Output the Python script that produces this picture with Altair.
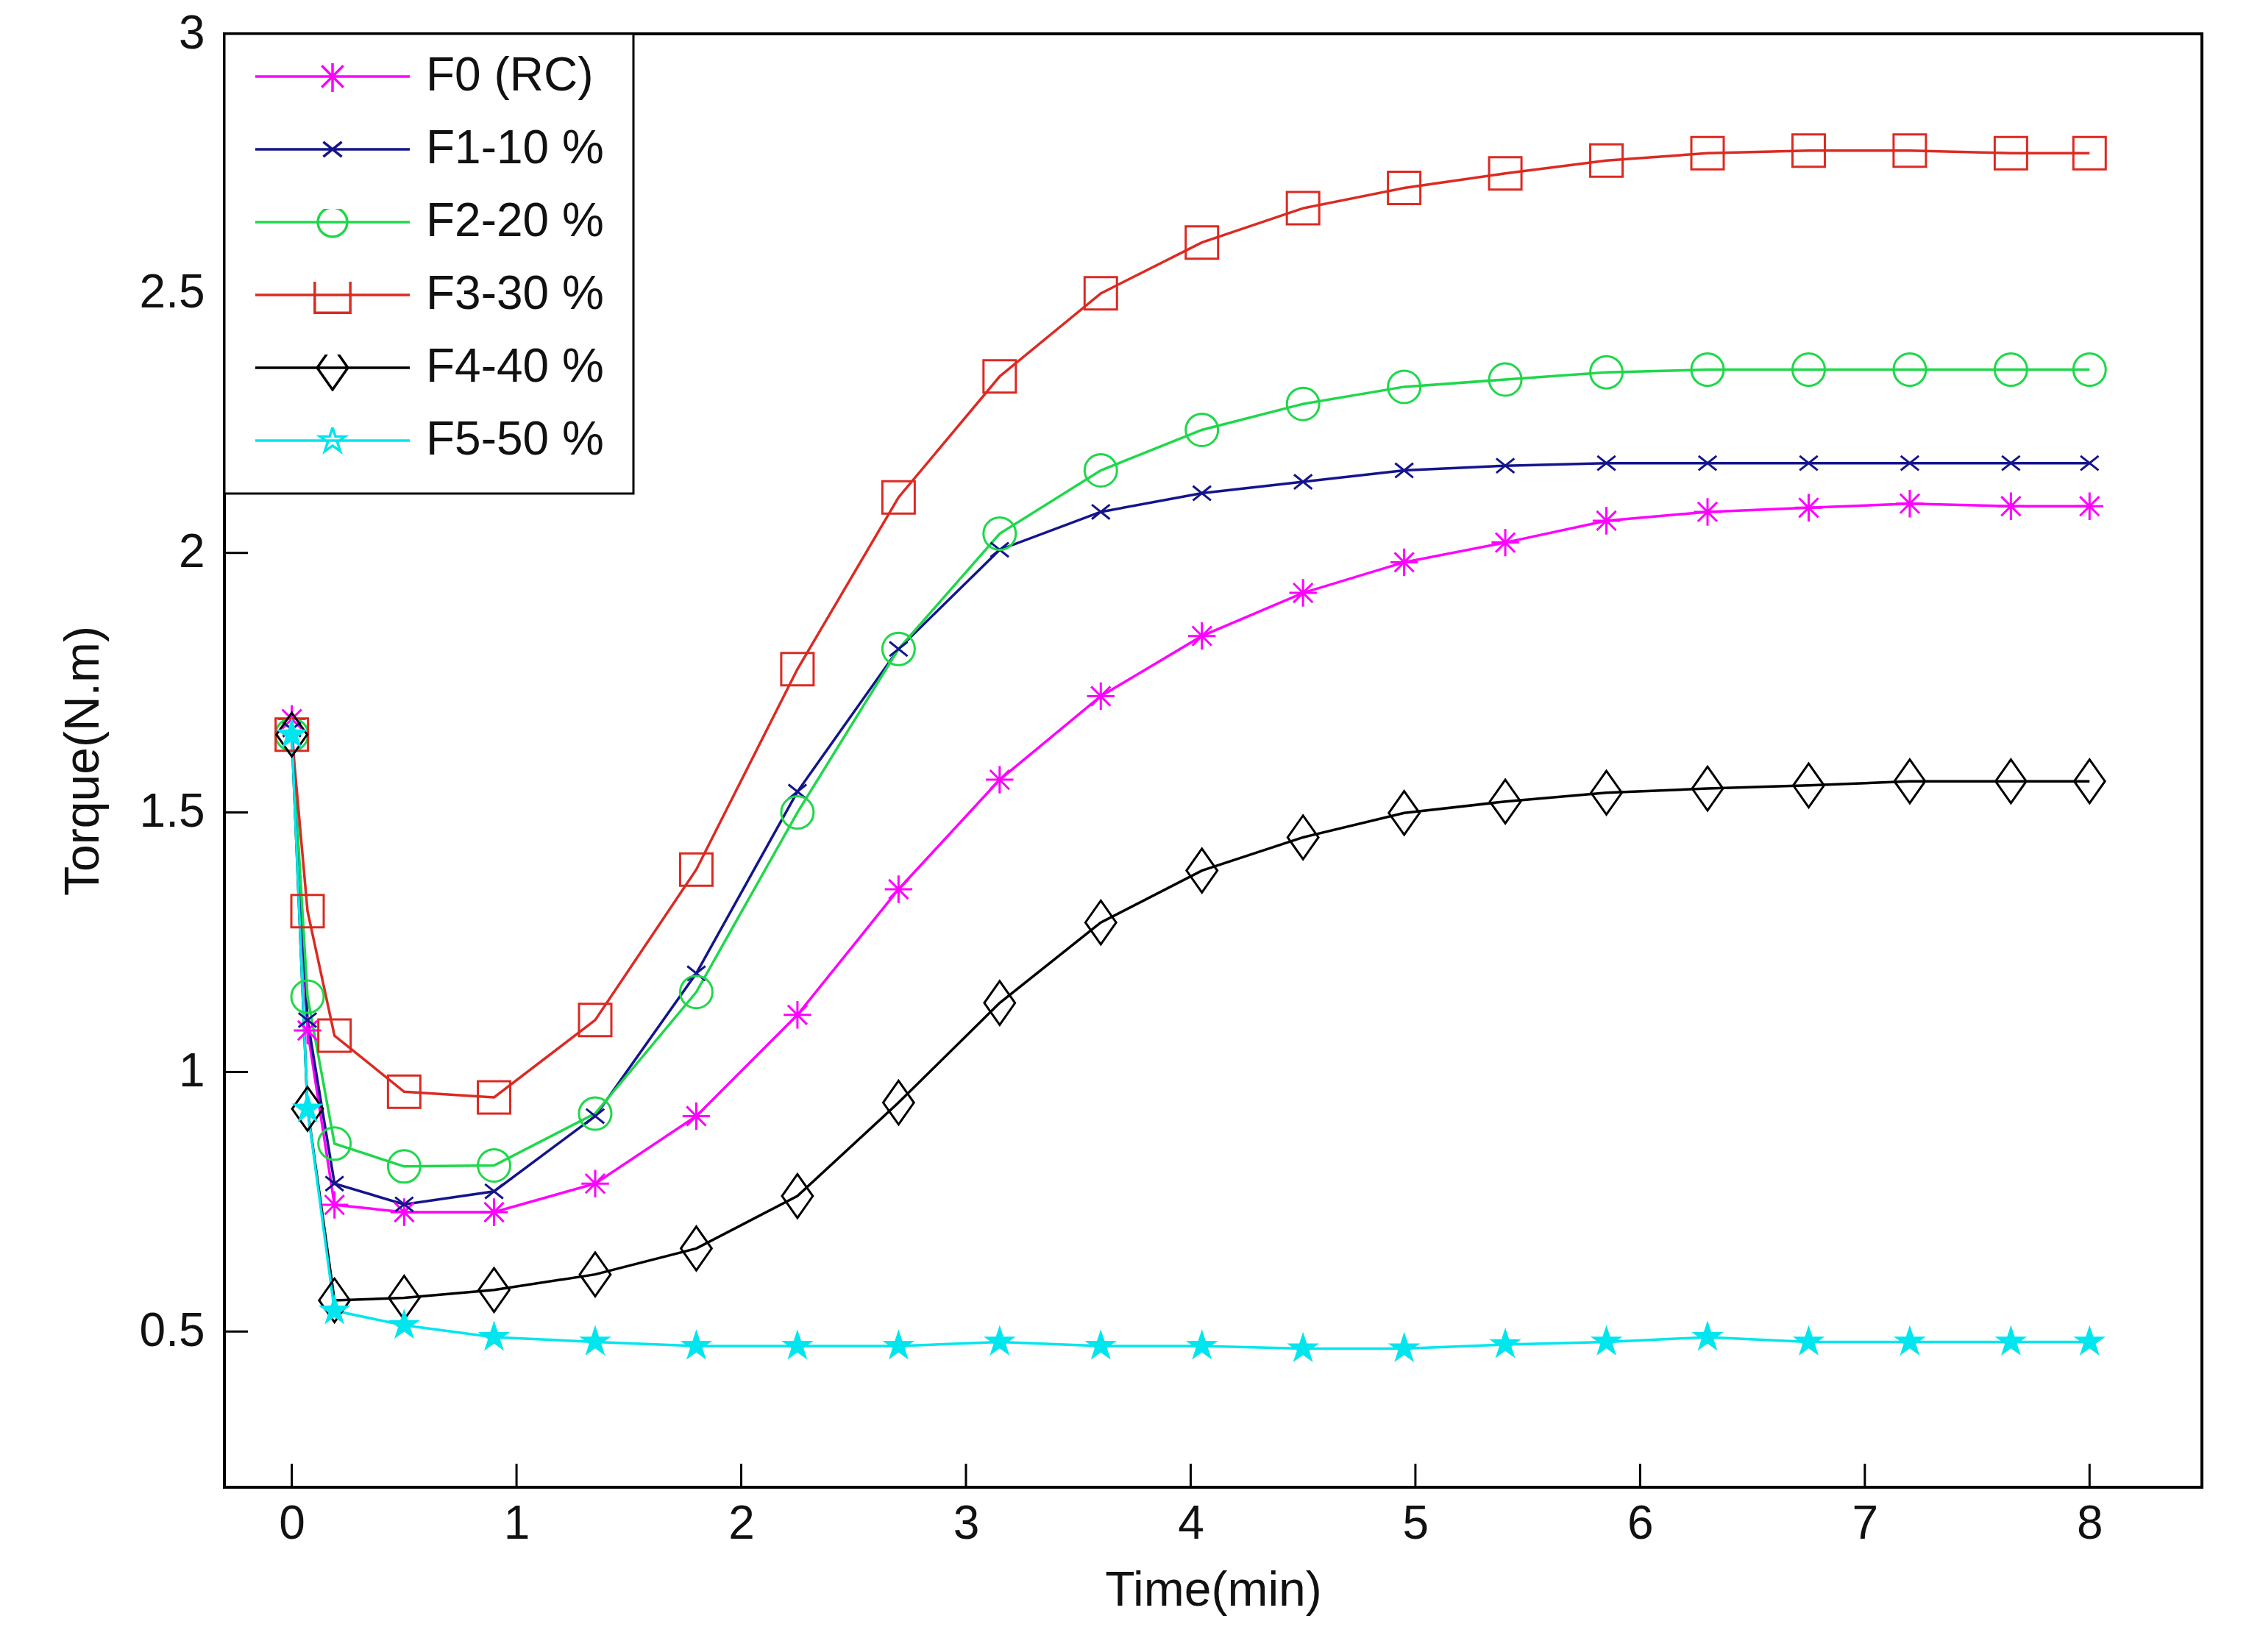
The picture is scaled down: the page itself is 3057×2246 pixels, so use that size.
import altair as alt
import pandas as pd

# time axis (min) where the markers sit
times = [0, 0.07, 0.19, 0.5, 0.9, 1.35, 1.8, 2.25, 2.7, 3.15, 3.6, 4.05,
         4.5, 4.95, 5.4, 5.85, 6.3, 6.75, 7.2, 7.65, 8.0]

names = ["F0 (RC)", "F1-10 %", "F2-20 %", "F3-30 %", "F4-40 %", "F5-50 %"]

f0 = [1.68, 1.08, 0.744, 0.73, 0.73, 0.785, 0.915, 1.11, 1.352, 1.563, 1.724,
      1.84, 1.923, 1.982, 2.02, 2.062, 2.079, 2.087, 2.095, 2.09, 2.09]
f1 = [1.66, 1.10, 0.785, 0.745, 0.77, 0.915, 1.19, 1.54, 1.815, 2.006, 2.079,
      2.115, 2.137, 2.159, 2.168, 2.173, 2.173, 2.173, 2.173, 2.173, 2.173]
f2 = [1.65, 1.145, 0.862, 0.818, 0.82, 0.92, 1.154, 1.50, 1.815, 2.037, 2.159,
      2.237, 2.287, 2.32, 2.334, 2.348, 2.353, 2.353, 2.353, 2.353, 2.353]
f3 = [1.65, 1.31, 1.07, 0.962, 0.951, 1.10, 1.39, 1.776, 2.107, 2.34, 2.50,
      2.598, 2.664, 2.703, 2.731, 2.756, 2.77, 2.775, 2.775, 2.77, 2.77]
f4 = [1.65, 0.929, 0.56, 0.565, 0.58, 0.61, 0.66, 0.761, 0.941, 1.133, 1.288,
      1.388, 1.452, 1.499, 1.521, 1.538, 1.546, 1.552, 1.56, 1.56, 1.56]
f5 = [1.65, 0.929, 0.54, 0.512, 0.489, 0.48, 0.472, 0.472, 0.472, 0.48, 0.472,
      0.472, 0.467, 0.467, 0.475, 0.48, 0.489, 0.48, 0.48, 0.48, 0.48]

x_ticks = [0, 1, 2, 3, 4, 5, 6, 7, 8]
y_ticks = [0.5, 1, 1.5, 2, 2.5, 3]

colors = ["#FF00FF", "#14148C", "#1ED84A", "#DC2A22", "#000000", "#00E6EE"]

W, H = 2688, 1976
FONT = "Liberation Sans"


# marker geometry in unit coords, matlab style: * x o square diamond pentagram
def segs(lines, k, closed=False):
    out = ""
    for pts in lines:
        out += "M" + "L".join(f"{x * k:.3f},{y * k:.3f}" for x, y in pts)
        if closed:
            out += "Z"
    return out


def circle(k):
    r = k
    return f"M{r:.3f},0A{r:.3f},{r:.3f} 0 1,1 {-r:.3f},0A{r:.3f},{r:.3f} 0 1,1 {r:.3f},0"


star_pts = [(0, -1), (0.225, -0.309), (0.951, -0.309), (0.363, 0.118),
            (0.588, 0.809), (0, 0.382), (-0.588, 0.809), (-0.363, 0.118),
            (-0.951, -0.309), (-0.225, -0.309)]

marker_fns = [
    lambda k: segs([[(-1, 0), (1, 0)], [(0, -1), (0, 1)],
                    [(-0.7, -0.7), (0.7, 0.7)], [(-0.7, 0.7), (0.7, -0.7)]], k),
    lambda k: segs([[(-1, -0.8), (1, 0.8)], [(-1, 0.8), (1, -0.8)]], k),
    circle,
    lambda k: segs([[(-1, -1), (1, -1), (1, 1), (-1, 1)]], k, closed=True),
    lambda k: segs([[(0, -1.35), (0.95, 0), (0, 1.35), (-0.95, 0)]], k, closed=True),
    lambda k: segs([star_pts], k, closed=True),
]
plot_sizes = [1400, 600, 1936, 1936, 1936, 2100]
legend_k = [0.2, 0.12, 0.19, 0.23, 0.21, 0.17]
filled = [False, False, False, False, False, True]

legend_paths = ["M-1,0L1,0" + fn(k) for fn, k in zip(marker_fns, legend_k)]

rows = []
for name, vals in zip(names, [f0, f1, f2, f3, f4, f5]):
    for t, v in zip(times, vals):
        rows.append({"series": name, "time": t, "torque": v})
df = pd.DataFrame(rows)

X = alt.X("time:Q",
          scale=alt.Scale(domain=[-0.3, 8.5], nice=False, zero=False),
          axis=alt.Axis(values=x_ticks, format="d", title="Time(min)",
                        labelPadding=18, titlePadding=26))
Y = alt.Y("torque:Q",
          scale=alt.Scale(domain=[0.2, 3], nice=False, zero=False),
          axis=alt.Axis(values=y_ticks, format="~g", title="Torque(N.m)",
                        labelPadding=27, titlePadding=42))

layers = []
for i, name in enumerate(names):
    base = alt.Chart(df).transform_filter(alt.datum.series == name)
    layers.append(base.mark_line(strokeWidth=3.5, color=colors[i]).encode(X, Y))
for i, name in enumerate(names):
    base = alt.Chart(df).transform_filter(alt.datum.series == name)
    layers.append(base.mark_point(
        shape=marker_fns[i](1.0), size=plot_sizes[i], filled=filled[i],
        color=colors[i], strokeWidth=3, opacity=1
    ).encode(X, Y))

# empty layer that only carries the legend (line + marker symbols)
legend_layer = alt.Chart(df).transform_filter(
    alt.datum.time < -10
).mark_point(filled=False, opacity=1).encode(
    X, Y,
    color=alt.Color("series:N", scale=alt.Scale(domain=names, range=colors),
                    legend=alt.Legend(title=None)),
    shape=alt.Shape("series:N", scale=alt.Scale(domain=names, range=legend_paths),
                    legend=alt.Legend(title=None)),
)

xt = pd.DataFrame({"time": x_ticks})
yt = pd.DataFrame({"torque": y_ticks})
x_tick_marks = alt.Chart(xt).mark_rule(color="black", strokeWidth=3).encode(
    X, y=alt.value(H), y2=alt.value(H - 32))
y_tick_marks = alt.Chart(yt).mark_rule(color="black", strokeWidth=3).encode(
    Y, x=alt.value(0), x2=alt.value(32))

chart = alt.layer(
    *layers, legend_layer, x_tick_marks, y_tick_marks
).properties(
    width=W, height=H,
    padding={"left": 72, "top": 6, "right": 40, "bottom": 20},
    background="white",
).configure_view(
    stroke="black", strokeWidth=4
).configure_axis(
    domain=False, ticks=False, grid=False, labelFlush=False,
    labelFont=FONT, titleFont=FONT, labelFontSize=64, titleFontSize=66,
    titleFontWeight="normal", labelColor="#111111", titleColor="#111111",
).configure_legend(
    orient="top-left", offset=0, padding=40, strokeColor="black",
    strokeWidth=3, fillColor="white", symbolSize=44100, symbolStrokeWidth=3.5,
    symbolOffset=0, labelOffset=20, labelFontSize=64, labelFont=FONT,
    labelColor="#111111", labelLimit=500, clipHeight=36, rowPadding=35,
)

chart.save("out.html", embed_options={"renderer": "svg", "actions": False})
